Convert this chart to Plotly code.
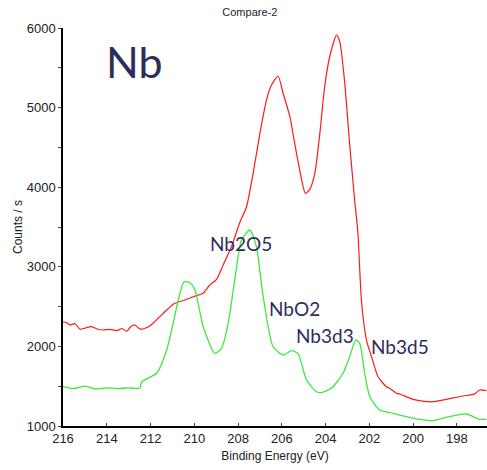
import plotly.graph_objects as go

# Nb 3d XPS spectra: binding energy (eV) and counts per second
red_ev = [216.0, 215.85, 215.68, 215.45, 215.22, 215.0, 214.69, 214.4, 214.16, 213.85,
          213.55, 213.3, 213.09, 212.9, 212.71, 212.55, 212.41, 212.03,
          211.65, 211.26, 210.89, 210.43, 210.05, 209.6, 209.29, 208.98, 208.68, 208.3,
          207.92, 207.61, 207.31, 207.0, 206.7, 206.47, 206.17, 205.94, 205.63, 205.41,
          205.18, 204.92, 204.72, 204.49, 204.26, 204.04, 203.81, 203.5, 203.35, 203.12,
          202.9, 202.67, 202.52, 202.36, 202.13, 201.9, 201.6, 201.22, 201.07, 200.76,
          200.61, 200.0, 199.5, 199.09, 198.48, 197.72, 197.2, 196.96, 196.65]
red_counts = [2310, 2300, 2270, 2285, 2215, 2230, 2248, 2215, 2206, 2215,
              2198, 2225, 2190, 2250, 2269, 2230, 2215, 2256,
              2353, 2457, 2541, 2583, 2624, 2667, 2771, 2843, 3023, 3253,
              3556, 3755, 4174, 4677, 5095, 5284, 5397, 5180, 4886, 4551,
              4216, 3923, 3973, 4174, 4677, 5262, 5639, 5912, 5828, 5305,
              4551, 3839, 3421, 2583, 2080, 1871, 1619, 1494, 1474, 1411,
              1402, 1335, 1310, 1305, 1335, 1377, 1400, 1452, 1444]

green_ev = [216.0, 215.5, 215.0, 214.5, 214.0, 213.5, 213.0, 212.6, 212.48, 212.4,
            211.72, 211.26, 210.96, 210.73, 210.47, 210.2, 209.97, 209.59, 209.06, 208.75,
            208.45, 208.15, 207.84, 207.46, 207.16, 206.85, 206.4, 205.94, 205.56, 205.26,
            204.87, 204.42, 204.19, 203.73, 203.2, 202.9, 202.62, 202.44, 202.21, 201.98,
            201.53, 200.92, 200.61, 199.7, 199.09, 198.48, 197.57, 196.96, 196.65]
green_counts = [1494, 1470, 1500, 1465, 1480, 1470, 1478, 1470, 1480, 1556,
                1662, 1955, 2294, 2583, 2813, 2800, 2708, 2247, 1913, 1976,
                2290, 2834, 3337, 3462, 3253, 2624, 1996, 1892, 1946, 1913,
                1578, 1431, 1419, 1474, 1662, 1871, 2080, 2039, 1662, 1368,
                1201, 1160, 1138, 1084, 1067, 1109, 1151, 1084, 1084]

y_ticks = [1000, 2000, 3000, 4000, 5000, 6000]
x_ticks = [216, 214, 212, 210, 208, 206, 204, 202, 200, 198]

peak_labels = ["Nb2O5", "NbO2", "Nb3d3", "Nb3d5"]
peak_label_ev = [207.87, 205.41, 204.04, 200.61]
peak_label_counts = [3299, 2470, 2131, 2005]

fig = go.Figure()
fig.add_trace(go.Scatter(x=red_ev, y=red_counts, mode="lines",
                         line=dict(color="#ff1a1a", width=1.2, shape="spline", smoothing=0.6),
                         showlegend=False))
fig.add_trace(go.Scatter(x=green_ev, y=green_counts, mode="lines",
                         line=dict(color="#3ee83e", width=1.3, shape="spline", smoothing=0.6),
                         showlegend=False))

label_color = "#2d2d5c"
fig.add_annotation(x=212.71, y=5573, text="Nb", showarrow=False,
                   font=dict(family="Lato", size=43, color=label_color))
for t, xv, yv in zip(peak_labels, peak_label_ev, peak_label_counts):
    fig.add_annotation(x=xv, y=yv, text=t, showarrow=False,
                       font=dict(family="Lato", size=19, color=label_color))

fig.update_layout(
    width=487, height=470,
    margin=dict(l=63, r=0, t=28, b=44),
    paper_bgcolor="white", plot_bgcolor="white",
    title=dict(text="Compare-2", x=0.513, xanchor="center", y=0.975, yanchor="middle",
               font=dict(family="Liberation Sans", size=11, color="#222")),
    font=dict(family="Liberation Sans", color="#222"),
)
fig.update_xaxes(
    range=[216, 196.62], tickvals=x_ticks, ticks="inside", ticklen=3,
    showline=True, linecolor="black", linewidth=1.5, showgrid=False, zeroline=False,
    tickfont=dict(size=13), title=dict(text="Binding Energy (eV)", font=dict(size=12), standoff=6),
)
fig.update_yaxes(
    range=[1000, 6000], tickvals=y_ticks, ticks="outside", ticklen=3,
    minor=dict(dtick=500, ticks="outside", ticklen=3),
    showline=True, linecolor="black", linewidth=1.5, showgrid=False, zeroline=False,
    tickfont=dict(size=13), title=dict(text="Counts / s", font=dict(size=12), standoff=2),
)

fig.write_html("out.html")
